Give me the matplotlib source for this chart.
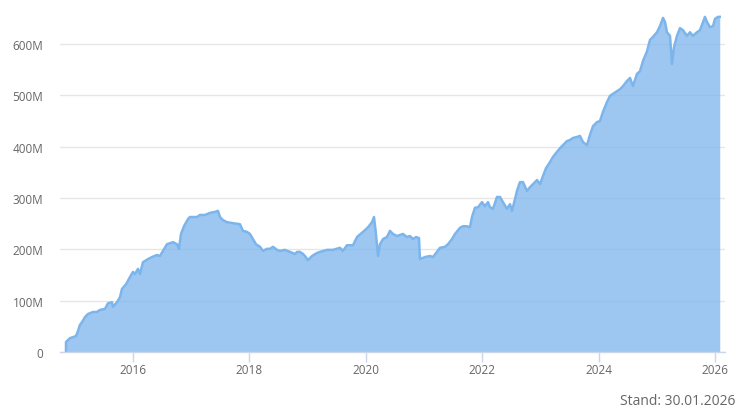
import matplotlib
import matplotlib.pyplot as plt

matplotlib.rc('font', family=['Open Sans', 'DejaVu Sans'])

# decimal years and values in millions
years = [2014.849, 2014.849, 2014.918, 2015.021, 2015.055, 2015.089, 2015.124, 2015.175, 2015.227,
         2015.313, 2015.381, 2015.433, 2015.519, 2015.570, 2015.639, 2015.656, 2015.725, 2015.777,
         2015.811, 2015.880, 2015.948, 2016.000, 2016.034, 2016.086, 2016.120, 2016.172, 2016.258,
         2016.326, 2016.412, 2016.464, 2016.515, 2016.584, 2016.687, 2016.756, 2016.790, 2016.825,
         2016.876, 2016.945, 2016.979, 2017.100, 2017.151, 2017.237, 2017.323, 2017.409, 2017.460,
         2017.495, 2017.546, 2017.615, 2017.718, 2017.838, 2017.890, 2017.959, 2018.010, 2018.062,
         2018.113, 2018.182, 2018.234, 2018.302, 2018.354, 2018.405, 2018.474, 2018.526, 2018.612,
         2018.698, 2018.784, 2018.818, 2018.869, 2018.921, 2018.955, 2019.007, 2019.076, 2019.162,
         2019.213, 2019.333, 2019.436, 2019.557, 2019.608, 2019.677, 2019.780, 2019.849, 2019.952,
         2020.038, 2020.107, 2020.141, 2020.175, 2020.210, 2020.244, 2020.296, 2020.364, 2020.416,
         2020.467, 2020.536, 2020.588, 2020.639, 2020.708, 2020.759, 2020.811, 2020.863, 2020.914,
         2020.931, 2021.017, 2021.103, 2021.155, 2021.223, 2021.275, 2021.361, 2021.412, 2021.481,
         2021.533, 2021.619, 2021.670, 2021.739, 2021.790, 2021.825, 2021.876, 2021.928, 2021.997,
         2022.048, 2022.100, 2022.134, 2022.186, 2022.254, 2022.306, 2022.357, 2022.426, 2022.478,
         2022.512, 2022.564, 2022.598, 2022.649, 2022.701, 2022.770, 2022.821, 2022.873, 2022.942,
         2022.993, 2023.045, 2023.096, 2023.165, 2023.216, 2023.285, 2023.337, 2023.388, 2023.457,
         2023.509, 2023.560, 2023.629, 2023.680, 2023.732, 2023.801, 2023.852, 2023.904, 2023.973,
         2024.024, 2024.076, 2024.144, 2024.196, 2024.247, 2024.316, 2024.368, 2024.419, 2024.488,
         2024.540, 2024.591, 2024.660, 2024.711, 2024.763, 2024.832, 2024.883, 2024.935, 2025.003,
         2025.055, 2025.107, 2025.141, 2025.175, 2025.227, 2025.261, 2025.296, 2025.347, 2025.399,
         2025.450, 2025.519, 2025.570, 2025.622, 2025.691, 2025.742, 2025.794, 2025.828, 2025.863,
         2025.914, 2025.966, 2026.000, 2026.052, 2026.082]
volume = [0, 19.5, 27, 31, 41, 53, 58, 68, 74,
          78, 78, 82, 84, 95, 97, 88, 97, 107,
          123, 132, 146, 156, 152, 162, 152, 175, 181,
          185, 189, 187, 197, 210, 214, 210, 201, 230,
          245, 259, 263, 263, 267, 267, 271, 273, 275,
          263, 257, 253, 251, 249, 236, 234, 230, 220,
          210, 205, 197, 201, 201, 205, 199, 197, 199,
          195, 191, 195, 195, 191, 187, 179, 187, 193,
          195, 199, 199, 203, 197, 208, 208, 224, 234,
          243, 253, 263, 230, 187, 210, 220, 224, 236,
          230, 226, 228, 230, 224, 226, 220, 224, 222,
          181, 185, 187, 185, 195, 203, 205, 210, 220,
          230, 242, 245, 245, 243, 263, 281, 282, 292,
          284, 292, 282, 279, 302, 302, 292, 279, 288,
          275, 298, 314, 331, 331, 314, 321, 327, 335,
          327, 343, 358, 370, 380, 390, 397, 403, 411,
          413, 417, 419, 421, 409, 403, 423, 440, 448,
          450, 468, 487, 499, 503, 508, 512, 518, 528,
          534, 518, 542, 547, 567, 586, 608, 614, 623,
          635, 651, 643, 623, 616, 561, 594, 616, 631,
          627, 616, 623, 616, 623, 627, 643, 653, 643,
          633, 635, 649, 653, 653]

xticks = [2016, 2018, 2020, 2022, 2024, 2026]
yticks = [0, 100, 200, 300, 400, 500, 600]
ylabels = ['0', '100M', '200M', '300M', '400M', '500M', '600M']

fig = plt.figure(figsize=(7.38, 4.10), dpi=100)
ax = fig.add_axes([60 / 738, 57 / 410, 665 / 738, 349 / 410])

ax.fill_between(years, volume, 0, color='#7cb5ec', alpha=0.75, lw=0)
ax.plot(years, volume, color='#7cb5ec', lw=1.8, solid_joinstyle='round')

ax.set_xlim(2014.746, 2026.172)
ax.set_ylim(0, 680)
ax.set_xticks(xticks)
ax.set_xticklabels([str(t) for t in xticks])
ax.set_yticks(yticks)
ax.set_yticklabels(ylabels)

for s in ['top', 'right', 'left']:
    ax.spines[s].set_visible(False)
ax.spines['bottom'].set_color('#ccd6eb')
ax.spines['bottom'].set_linewidth(1)

ax.grid(axis='y', color='#e6e6e6', lw=1)
ax.set_axisbelow(True)
ax.tick_params(axis='y', length=0, pad=12, labelsize=8.5, labelcolor='#666666')
ax.tick_params(axis='x', length=7.2, width=1, color='#ccd6eb', pad=0.5,
               labelsize=8.5, labelcolor='#666666')

fig.text(735 / 738, 5 / 410, 'Stand: 30.01.2026', ha='right', va='baseline',
         fontsize=10, color='#666666')

fig.savefig('out.png', dpi=100)
